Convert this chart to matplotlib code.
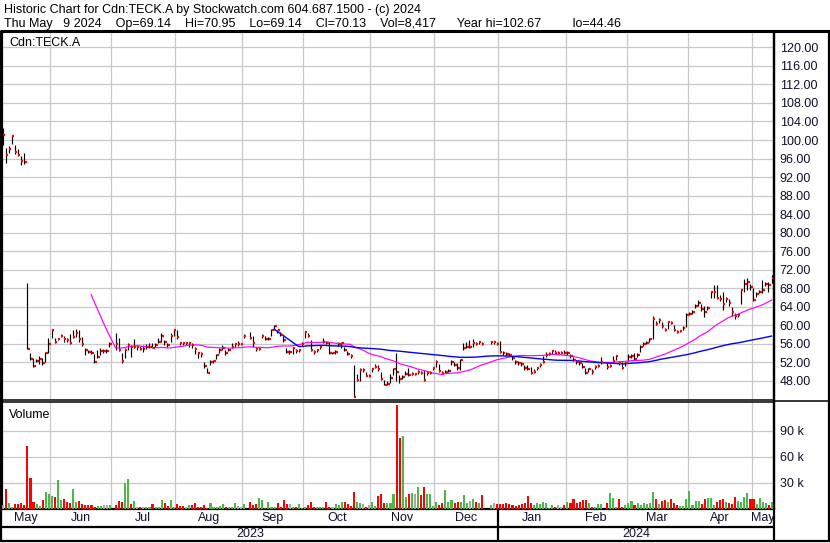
import numpy as np
import pandas as pd
import matplotlib
matplotlib.use("Agg")
import matplotlib.pyplot as plt
from matplotlib.collections import LineCollection
from matplotlib.lines import Line2D
from matplotlib.transforms import Affine2D, blended_transform_factory, Bbox, TransformedBbox

plt.rcParams['font.family'] = ['Liberation Sans', 'DejaVu Sans']

# ---------------- text ----------------
title_line1 = "Historic Chart for Cdn:TECK.A by Stockwatch.com 604.687.1500 - (c) 2024"
title_line2 = ("Thu May   9 2024    Op=69.14    Hi=70.95    Lo=69.14    Cl=70.13    "
               "Vol=8,417      Year hi=102.67         lo=44.46")
symbol = "Cdn:TECK.A"
volume_title = "Volume"

month_labels = ["May", "Jun", "Jul", "Aug", "Sep", "Oct", "Nov", "Dec",
                "Jan", "Feb", "Mar", "Apr", "May"]
month_first_day = [0, 16, 36, 57, 79, 99, 121, 142, 163, 185, 205, 225, 246]
year_labels = ["2023", "2024"]
year_first_day = [0, 163]

price_ticks = list(range(48, 121, 4))
volume_ticks = [30000, 60000, 90000]
volume_tick_labels = ["30 k", "60 k", "90 k"]

# ---------------- data (one entry per trading day, None = no trade) ----------------
close = [
    # May 2023
    101.0, 96.7, 98.0, 100.8, 97.4, 96.8, 95.5, 95.3, 55.0, 52.8, 51.2, 52.4, 52.8, 51.8, 54.0, 56.0,
    # Jun
    58.9, 56.4, 57.1, 57.8, 57.1, 56.8, 56.2, 57.4, 58.3, 57.1, 56.0, 54.6, 54.2, 54.1, 52.0, 53.1,
    54.4, 54.4, 54.4, 56.0,
    # Jul
    None, 55.9, 54.6, 52.4, 54.7, 55.8, 55.3, 55.4, 55.4, 54.9, 54.9, 55.3, 55.4, 55.2, 55.7, 56.5,
    57.8, 56.4, 55.7, 57.6, 59.1,
    # Aug
    57.4, 56.3, 56.2, 56.2, 56.3, 55.7, 54.9, 54.0, 53.8, 51.3, 49.8, 52.2, 52.3, 53.5, 54.6, 55.1,
    54.0, 54.6, 55.4, 56.0, 56.0, 56.0,
    # Sep
    57.8, None, 57.3, 56.3, 54.9, 55.0, 57.8, 57.0, 57.1, 58.9, 59.8, 58.9, 58.0, 56.8, 54.2, 54.2,
    55.1, 54.4, 54.6, 56.0,
    # Oct
    58.5, 57.8, 54.7, 54.2, 54.6, 55.4, 56.5, 56.3, 54.0, 54.0, 54.2, 56.0, 56.2, 54.7, 53.8, 53.4,
    44.6, 48.3, 50.4, 50.4, 49.1, 49.1,
    # Nov
    50.5, 51.1, 50.6, 48.4, 47.2, 47.3, 48.6, 50.5, 50.0, 48.4, 48.8, 49.5, 49.3, 49.5, 49.5, 50.0,
    49.8, 48.2, 49.7, 49.8, 50.7,
    # Dec
    52.2, 50.2, 49.7, 50.0, 50.2, 52.2, 51.5, 50.7, 52.6, 55.1, 55.4, 55.4, 56.2, 56.0, 56.4, 56.0,
    None, None, 56.4, 56.4, 56.0,
    # Jan 2024
    54.2, 54.0, 53.8, 53.6, 52.9, 52.0, 51.8, 51.7, 50.7, 50.5, 49.8, 50.0, 50.7, 51.5, 52.2, 53.6,
    53.8, 54.5, 54.1, 54.1, 54.1, 54.0,
    # Feb
    54.1, 53.3, 52.6, 52.0, 51.8, 51.0, 49.8, 50.5, 49.9, 51.1, 51.3, 52.1, None, 51.1, 51.3, 52.4,
    53.4, 51.9, 50.8, 51.8,
    # Mar
    53.2, 53.4, 52.8, 53.6, 55.3, 55.9, 56.3, 57.0, 61.3, 60.4, 61.1, 59.9, 59.0, 60.7, 60.6, 59.1,
    58.6, 58.8, 59.5, 62.2,
    # Apr
    62.5, 62.8, 64.1, 64.9, 63.6, 62.9, 63.8, 67.1, 67.3, 66.0, 65.6, 64.7, 65.6, 64.9, 62.8, 62.0,
    62.3, 67.7, 68.9, 69.4, 68.2,
    # May 2024
    65.5, 66.7, 67.3, 67.7, 68.9, 68.7, 70.13,
]

high = [
    102.67, 98.3, 98.6, 101.0, 98.9, 98.0, 96.6, 97.3, 69.1, 54.1, 52.9, 52.8, 53.3, 52.9, 54.2, 57.3,
    59.2, 57.3, 57.3, 58.2, 57.8, 57.3, 58.1, 59.1, 59.2, 58.9, 57.5, 55.1, 54.7, 54.6, 53.9, 54.6,
    55.1, 54.9, 54.9, 56.5,
    None, 58.3, 57.3, 54.0, 55.1, 56.2, 55.8, 57.0, 55.8, 55.6, 55.8, 56.0, 56.2, 56.3, 56.3, 57.3,
    58.3, 56.8, 56.2, 58.3, 59.2,
    59.1, 56.5, 56.4, 56.4, 56.5, 56.3, 55.4, 54.2, 54.3, 52.2, 50.8, 52.6, 52.6, 53.8, 55.1, 55.8,
    54.7, 55.1, 56.2, 56.3, 56.6, 56.3,
    58.1, None, 58.5, 57.6, 55.4, 55.4, 58.2, 57.6, 57.4, 59.3, 60.1, 59.1, 58.6, 57.6, 55.1, 54.7,
    55.4, 55.0, 55.0, 56.5,
    58.7, 58.3, 56.8, 54.7, 55.0, 55.8, 57.2, 56.7, 56.5, 54.3, 54.6, 56.5, 56.5, 55.3, 54.4, 53.8,
    51.5, 49.6, 50.8, 50.9, 50.0, 49.4,
    50.9, 51.6, 51.4, 50.0, 48.3, 48.0, 49.4, 50.7, 54.1, 49.3, 49.2, 50.1, 50.7, 49.9, 49.8, 50.3,
    50.2, 50.4, 50.0, 50.2, 51.0,
    52.6, 51.7, 50.2, 50.4, 50.6, 52.6, 52.0, 51.8, 52.8, 56.2, 56.5, 56.9, 57.1, 56.4, 56.7, 56.4,
    None, None, 56.6, 56.6, 56.4,
    56.6, 54.4, 54.2, 54.0, 53.4, 52.6, 52.3, 52.1, 51.4, 51.5, 51.0, 50.5, 51.0, 51.8, 53.4, 54.2,
    54.2, 54.7, 54.6, 54.4, 54.5, 54.7,
    54.4, 53.8, 53.2, 52.4, 52.3, 51.9, 50.9, 50.8, 50.5, 51.5, 51.7, 53.2, None, 51.8, 51.7, 53.4,
    53.7, 52.3, 52.0, 52.2,
    53.8, 53.8, 54.0, 54.0, 55.8, 56.4, 56.7, 57.3, 62.1, 61.0, 61.6, 60.8, 59.5, 61.0, 61.0, 60.0,
    59.1, 59.0, 59.8, 62.6,
    62.9, 63.3, 64.6, 65.5, 64.6, 64.1, 64.2, 67.4, 68.8, 68.8, 66.6, 67.3, 66.2, 65.6, 63.9, 62.6,
    62.6, 67.9, 70.0, 70.3, 68.9,
    68.0, 67.1, 67.7, 69.7, 69.3, 69.3, 70.95,
]

low = [
    99.0, 95.0, 97.2, 99.2, 96.9, 96.5, 94.6, 94.9, 54.9, 52.6, 51.1, 52.0, 51.7, 51.5, 52.0, 54.0,
    57.3, 56.2, 56.8, 57.5, 56.5, 56.5, 55.9, 57.3, 57.5, 56.5, 55.5, 53.6, 54.0, 53.9, 51.8, 52.9,
    53.6, 54.0, 54.0, 55.3,
    None, 54.7, 54.4, 51.8, 52.9, 54.7, 53.1, 55.1, 54.7, 54.6, 54.2, 54.9, 55.1, 55.1, 55.4, 56.2,
    56.5, 55.8, 55.4, 56.5, 57.6,
    57.0, 55.8, 55.8, 55.8, 55.4, 55.2, 53.9, 53.0, 53.2, 50.8, 49.7, 51.5, 51.8, 52.8, 54.0, 54.6,
    53.6, 54.4, 55.1, 55.4, 55.6, 55.7,
    57.3, None, 57.1, 55.4, 54.4, 54.6, 57.3, 56.9, 56.8, 57.6, 58.9, 58.4, 57.8, 56.5, 54.0, 53.8,
    53.9, 54.0, 54.2, 55.5,
    57.3, 57.5, 54.4, 53.9, 54.2, 55.0, 56.2, 56.0, 53.8, 53.8, 53.9, 55.6, 55.2, 54.4, 53.5, 53.0,
    44.46, 48.0, 47.9, 50.0, 49.0, 48.9,
    50.0, 50.7, 50.1, 48.2, 47.1, 47.1, 47.6, 49.3, 48.0, 47.5, 48.4, 49.2, 49.1, 49.2, 49.2, 49.6,
    49.5, 47.9, 49.3, 49.5, 50.3,
    51.1, 50.0, 49.5, 49.7, 49.9, 51.5, 51.2, 50.4, 50.4, 54.7, 55.1, 55.1, 55.4, 55.7, 55.9, 55.7,
    None, None, 56.0, 56.0, 55.8,
    54.0, 53.6, 53.4, 53.3, 52.5, 51.7, 51.4, 51.3, 50.4, 50.3, 49.5, 49.7, 50.4, 51.0, 51.8, 53.2,
    53.5, 53.8, 53.9, 53.8, 53.8, 53.8,
    53.7, 52.9, 52.3, 51.6, 51.4, 50.7, 49.5, 50.0, 49.6, 50.6, 51.0, 51.7, None, 50.5, 51.0, 52.0,
    52.6, 51.4, 50.5, 51.2,
    52.4, 53.0, 52.5, 53.2, 54.2, 55.5, 55.9, 56.5, 57.0, 60.0, 60.5, 59.5, 58.8, 59.2, 60.2, 58.8,
    58.4, 58.5, 59.0, 59.7,
    62.2, 62.5, 63.7, 64.2, 63.2, 61.8, 63.4, 65.9, 65.8, 65.6, 65.2, 63.4, 65.1, 64.2, 62.0, 61.4,
    61.8, 64.6, 67.1, 67.6, 67.6,
    65.3, 66.2, 66.9, 67.0, 68.5, 67.3, 69.14,
]

volume_k = [
    4.6, 23.1, 6.5, 2.7, 5.8, 5.8, 6.5, 4.6, 73.0, 36.0, 8.5, 5.4, 3.5, 10.4, 19.6, 16.9,
    15.0, 14.2, 33.5, 10.4, 11.5, 8.5, 6.5, 23.1, 8.5, 9.2, 5.4, 4.2, 4.6, 4.2, 1.9, 3.5,
    3.5, 4.6, 4.2, 4.6,
    0, 4.6, 9.2, 8.5, 29.6, 34.7, 5.8, 9.2, 2.7, 1.9, 1.9, 1.9, 2.7, 5.8, 1.9, 2.7,
    10.4, 7.3, 3.5, 10.4, 2.7,
    5.8, 3.5, 3.5, 1.9, 4.2, 4.2, 6.5, 1.9, 2.7, 4.2, 0.8, 6.5, 1.9, 1.9, 3.5, 5.4,
    2.7, 1.9, 2.0, 6.5, 3.5, 2.7,
    5.4, 0, 7.7, 4.2, 5.4, 12.3, 10.4, 1.5, 8.5, 1.9, 1.9, 6.5, 2.7, 10.4, 5.4, 5.4,
    1.9, 1.9, 5.4, 0.8,
    1.9, 4.2, 7.7, 2.7, 2.7, 1.9, 1.9, 7.7, 1.9, 1.9, 5.4, 4.2, 8.1, 8.1, 5.8, 3.0,
    20.0, 8.5, 7.3, 5.4, 1.9, 4.2,
    8.5, 3.5, 15.0, 16.9, 6.5, 6.5, 6.5, 16.9, 120.0, 81.6, 84.3, 13.5, 16.9, 18.1, 16.9, 25.0,
    16.2, 25.0, 17.0, 17.0, 3.5,
    8.1, 4.6, 7.3, 21.9, 8.1, 10.4, 7.3, 8.1, 8.1, 16.2, 7.3, 9.2, 11.5, 8.1, 7.3, 16.2,
    0, 0, 4.6, 6.5, 5.4,
    5.4, 5.4, 6.5, 5.4, 4.2, 3.5, 4.2, 5.4, 7.3, 15.0, 6.5, 4.2, 7.3, 5.4, 8.1, 6.5,
    0.8, 4.2, 1.9, 4.2, 2.7, 4.2,
    8.1, 6.5, 11.5, 6.5, 8.1, 10.4, 10.4, 6.5, 2.7, 1.9, 5.4, 5.4, 0, 6.5, 18.1, 12.3,
    2.7, 11.5, 1.9, 4.2,
    6.5, 9.6, 4.2, 6.5, 4.2, 6.5, 5.4, 6.5, 19.6, 11.5, 5.4, 9.2, 10.4, 8.1, 11.5, 6.5,
    4.2, 3.5, 3.5, 11.5,
    20.8, 4.2, 9.6, 9.6, 5.4, 11.5, 12.3, 12.3, 4.2, 8.1, 10.4, 11.5, 8.1, 6.5, 5.4, 13.5,
    9.6, 8.1, 13.5, 18.1, 11.5,
    11.5, 5.4, 12.3, 8.1, 6.5, 4.2, 8.417,
]

ma_short = 30
ma_long = 90

# ---------------- prepare ----------------
c = np.array([np.nan if v is None else v for v in close], dtype=float)
hi = np.array([np.nan if v is None else v for v in high], dtype=float)
lo = np.array([np.nan if v is None else v for v in low], dtype=float)
vol = np.array(volume_k, dtype=float) * 1000.0
n = len(c)
x = np.arange(n)

cs = pd.Series(c).ffill()
ma1 = cs.rolling(ma_short).mean().to_numpy()
ma2 = cs.rolling(ma_long).mean().to_numpy()

prev = cs.shift(1).to_numpy()
vcolors = []
for i in range(n):
    if np.isnan(prev[i]) or np.isnan(c[i]) or abs(c[i] - prev[i]) < 1e-9:
        vcolors.append('#a8a8a8')
    elif c[i] > prev[i]:
        vcolors.append('#4cb84a')
    else:
        vcolors.append('#ff0000')

# ---------------- figure ----------------
W, H = 830, 543
fig = plt.figure(figsize=(W / 100, H / 100), dpi=100, facecolor='white')
pxT = Affine2D().scale(1.0 / W, -1.0 / H).translate(0, 1) + fig.transFigure

def fx(px):
    return px / W

def fy(py):
    return 1 - py / H

PL, PR = 1.5, 773.5
P_TOP, P_BOT = 32.5, 399.5
V_TOP, V_BOT = 401.5, 509.0

ax_p = fig.add_axes([fx(PL), fy(P_BOT), fx(PR) - fx(PL), fy(P_TOP) - fy(P_BOT)])
ax_v = fig.add_axes([fx(PL), fy(V_BOT), fx(PR) - fx(PL), fy(V_TOP) - fy(V_BOT)], sharex=ax_p)

XL, XR = -0.4, 252.65
grid_color = '#c8c8c8'
label_color = '#10102a'
month_bounds = [d - 0.5 for d in month_first_day[1:]]

for ax in (ax_p, ax_v):
    ax.set_xlim(XL, XR)
    ax.set_xticks(month_bounds)
    ax.tick_params(axis='x', length=0, labelbottom=False)
    ax.grid(True, color=grid_color, linewidth=0.9)
    ax.set_axisbelow(True)
    ax.yaxis.tick_right()
    ax.tick_params(axis='y', length=0, pad=4.5, labelsize=9, labelcolor=label_color)
    ax.set_facecolor('white')

# price panel
ax_p.set_ylim(44.0, 123.2)
ax_p.set_yticks(price_ticks)
ax_p.set_yticklabels([f"{t:.2f}" for t in price_ticks])
ax_p.spines['top'].set_visible(False)
ax_p.spines['left'].set_linewidth(1.6)
ax_p.spines['right'].set_linewidth(1.6)
ax_p.spines['bottom'].set_linewidth(1.1)

ok = ~np.isnan(c)
bar_segs = [((xi, l), (xi, h)) for xi, l, h in zip(x[ok], lo[ok], hi[ok])]
tick_segs = [((xi + 0.15, cv), (xi + 0.8, cv)) for xi, cv in zip(x[ok], c[ok])]
ax_p.add_collection(LineCollection(bar_segs, colors='black', linewidths=0.85, zorder=3))
ax_p.plot(x, ma1, color='#ff00ff', linewidth=0.85, zorder=4)
ax_p.plot(x, ma2, color='#0000ff', linewidth=1.0, zorder=4)
ax_p.add_collection(LineCollection(tick_segs, colors='#ff0000', linewidths=1.6,
                                   capstyle='butt', zorder=5))

# volume panel
ax_v.set_ylim(0, 124000)
ax_v.set_yticks(volume_ticks)
ax_v.set_yticklabels(volume_tick_labels)
ax_v.bar(x + 0.1, vol, width=0.68, color=vcolors, zorder=3, linewidth=0)
ax_v.spines['top'].set_linewidth(1.1)
for s in ('left', 'right', 'bottom'):
    ax_v.spines[s].set_linewidth(1.6)

# ---------------- frame lines ----------------
def fline(xs, ys, lw, color='black'):
    fig.add_artist(Line2D(xs, ys, transform=pxT, color=color, linewidth=lw,
                          solid_capstyle='butt'))

fline([0, 830], [31.0, 31.0], 2.2)          # header separator
fline([1.0, 1.0], [31, 542], 1.6)           # left border
fline([828.5, 828.5], [31, 542], 1.6)       # right border
fline([PR, PR], [31, 542], 1.6)             # scale panel separator
fline([PR, 828.5], [401.0, 401.0], 1.1)     # price/volume scale split
fline([0, PR], [526.5, 526.5], 1.6)         # month row bottom
fline([0, 829.5], [541.3, 541.3], 1.6)      # bottom border

# year separator
jan_x = year_first_day[1] - 0.5
blend = blended_transform_factory(ax_v.transData, pxT)
fig.add_artist(Line2D([jan_x, jan_x], [509, 541.3], transform=blend, color='black',
                      linewidth=1.6, solid_capstyle='butt'))

# ---------------- labels ----------------
fig.text(fx(4.0), fy(13.0), title_line1, fontsize=9, color='black', va='baseline', ha='left')
fig.text(fx(4.0), fy(27.0), title_line2, fontsize=9, color='black', va='baseline', ha='left')
fig.text(fx(9.0), fy(46.0), symbol, fontsize=9, color='black', va='baseline', ha='left')
fig.text(fx(9.0), fy(417.5), volume_title, fontsize=9, color='black', va='baseline', ha='left')

clip = TransformedBbox(Bbox([[0, 0], [PR / W, 1]]), fig.transFigure)
starts = [XL] + month_bounds
ends = month_bounds + [XR]
for lab, s0, s1 in zip(month_labels, starts, ends):
    t = fig.text((s0 + s1) / 2, 518.0, lab, transform=blend, fontsize=9,
                 ha='center', va='center', color=label_color)
    t.set_clip_box(clip)
    t.set_clip_on(True)

ystarts = [XL, jan_x]
yends = [jan_x, XR]
for lab, s0, s1 in zip(year_labels, ystarts, yends):
    fig.text((s0 + s1) / 2, 534.0, lab, transform=blend, fontsize=9,
             ha='center', va='center', color=label_color)

fig.savefig("out.png", dpi=100, facecolor='white')
